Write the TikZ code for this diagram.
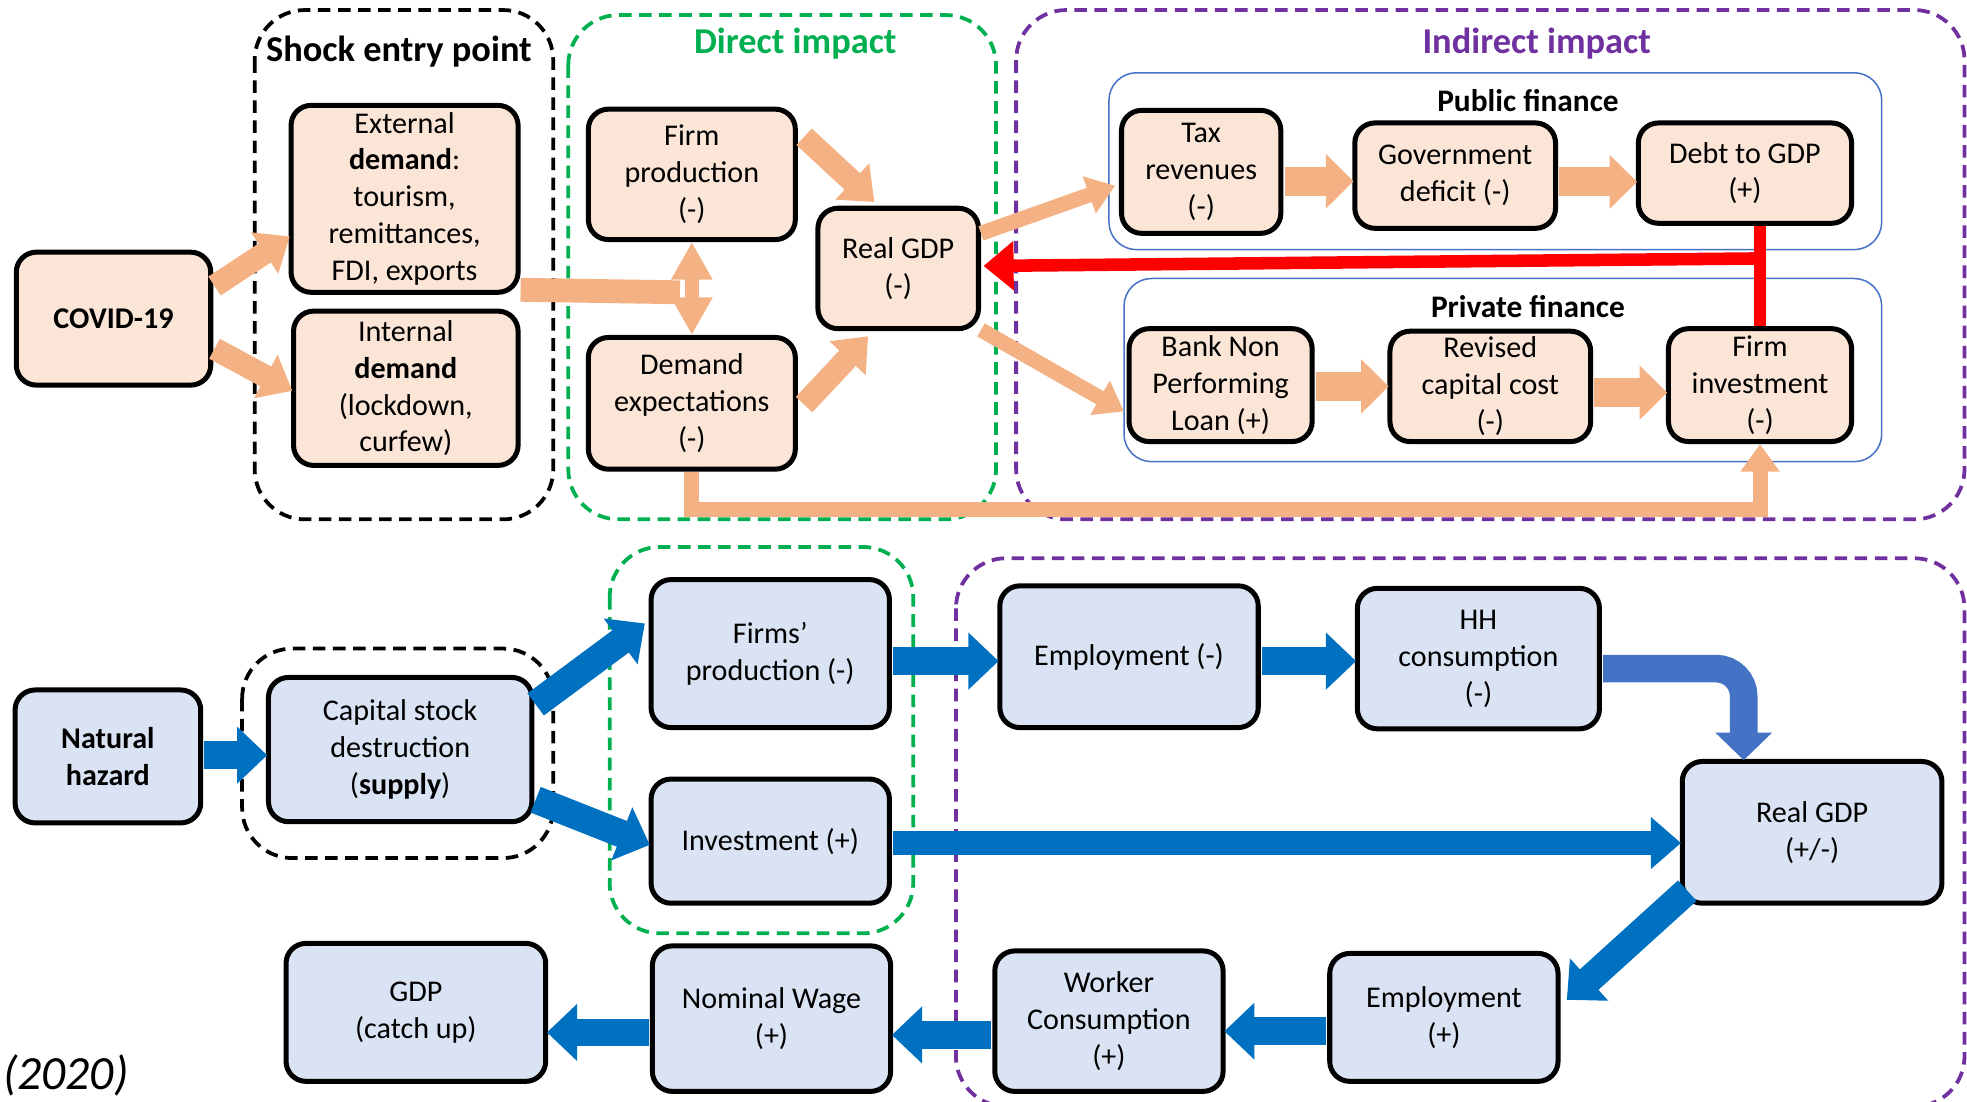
\documentclass[tikz,border=0pt]{standalone}
\usepackage{fontspec}
\setmainfont{Carlito}
\usetikzlibrary{arrows.meta,calc}

\definecolor{peach}{HTML}{FBE5D6}
\definecolor{orangearr}{HTML}{F4B183}
\definecolor{paleblue}{HTML}{DAE3F3}
\definecolor{bluearr}{HTML}{0070C0}
\definecolor{bluecurve}{HTML}{4472C4}
\definecolor{finblue}{HTML}{4472C4}
\definecolor{grpgreen}{HTML}{00B050}
\definecolor{grppurple}{HTML}{7030A0}

\begin{document}
\begin{tikzpicture}[x=0.5pt,y=-0.5pt,
  box/.style={draw=black, line width=2pt, rounded corners=8pt, inner sep=1pt,
    align=center, font=\fontsize{12}{14.7}\selectfont},
  pbox/.style={box, fill=peach},
  bbox/.style={box, fill=paleblue},
  sz/.style 2 args={minimum width=#1*0.5pt, minimum height=#2*0.5pt},
  group/.style={line width=1.5pt, rounded corners=20pt, dash pattern=on 5pt off 3pt},
  fin/.style={draw=finblue, line width=0.6pt, rounded corners=11pt},
  ttl/.style={font=\fontsize{14.5}{17}\selectfont\bfseries},
  subttl/.style={font=\fontsize{12.5}{15}\selectfont\bfseries},
  ofat/.style={draw=orangearr, line width=11.5pt, -{Triangle[length=11pt,width=21pt]}},
  odiag/.style={draw=orangearr, line width=9pt, -{Triangle[length=12pt,width=19pt]}},
  othin/.style={draw=orangearr, line width=6pt, -{Triangle[length=11pt,width=15pt]}},
  obar/.style={draw=orangearr, line width=9.5pt},
  oboth/.style={draw=orangearr, line width=5.5pt,
    {Triangle[length=15pt,width=15.5pt]}-{Triangle[length=15pt,width=15.5pt]}},
  barr/.style={draw=bluearr, line width=11pt, -{Triangle[length=12pt,width=22pt]}},
  bcurve/.style={draw=bluecurve, line width=11pt, rounded corners=11pt,
    -{Triangle[length=11pt,width=22pt]}},
  redarr/.style={draw=red, line width=5pt, -{Triangle[length=12pt,width=19pt]}},
  redline/.style={draw=red, line width=4.5pt}
]
\useasboundingbox (0,0) rectangle (1568,878);
\clip (0,0) rectangle (1568,878);

% ---------------- COVID-19 channel ----------------
% grouping frames
\draw[group, draw=black] (203,8) rectangle (441,414);
\draw[group, draw=grpgreen] (453,12) rectangle (794,414);
\draw[group, draw=grppurple] (810,8) rectangle (1566,414);
\draw[fin] (884,58) rectangle (1500,199);
\draw[fin] (896,222) rectangle (1500,368);

\node[ttl] (tshock) at (318,41) {Shock entry point};
\node[ttl, text=grpgreen] (tdirect) at (634,35) {Direct impact};
\node[ttl, text=grppurple] (tindirect) at (1225,35) {Indirect impact};
\node[subttl] (tpublic) at (1218,80) {Public finance};
\node[subttl] (tprivate) at (1218,244) {Private finance};

\node[pbox, sz={155}{106}] (covid) at (90.5,254) {\textbf{COVID-19}};
\node[pbox, sz={181}{149}] (ext) at (322.5,158.5)
  {External\\\textbf{demand}:\\tourism,\\remittances,\\FDI, exports};
\node[pbox, sz={179}{123}] (int) at (323.5,309.5)
  {Internal\\\textbf{demand}\\(lockdown,\\curfew)};
\node[pbox, sz={165}{104}] (fprod) at (551.5,139) {Firm\\production\\(-)};
\node[pbox, sz={165}{105}] (dexp) at (551.5,321.5) {Demand\\expectations\\(-)};
\node[pbox, sz={128}{96}] (rgdp) at (716,214) {Real GDP\\(-)};
\node[pbox, sz={127}{98}] (tax) at (957.5,137) {Tax\\revenues\\(-)};
\node[pbox, sz={160}{84}] (gov) at (1160,140) {Government\\deficit (-)};
\node[pbox, sz={170}{80}] (debt) at (1391,138) {Debt to GDP\\(+)};
\node[pbox, sz={146}{90}] (npl) at (973,307) {Bank Non\\Performing\\Loan (+)};
\node[pbox, sz={160}{88}] (rev) at (1188,308) {Revised\\capital cost\\(-)};
\node[pbox, sz={146}{90}] (finv) at (1403,307) {Firm\\investment\\(-)};

% connectors
\draw[odiag] ($(covid.east)+(1,-26)$) -- ($(ext.west)+(1,30)$);
\draw[odiag] ($(covid.east)+(1,24)$) -- ($(int.west)+(1,2)$);
\coordinate (barend) at ($(fprod.south)+(-9.5,40)$);
\draw[obar] ($(ext.east)+(0,72.5)$) -- (barend);
\draw[oboth] (fprod.south) -- (dexp.north);
\draw[odiag] ($(fprod.east)+(5,-30)$) -- ($(rgdp.north west)+(47,-3)$);
\draw[odiag] ($(dexp.east)+(5,1)$) -- ($(rgdp.south west)+(42,4)$);
\draw[othin] ($(rgdp.east)+(0,-28)$) -- ($(tax.west)+(-3,11)$);
\draw[othin] ($(rgdp.south east)+(0,-1)$) -- ($(npl.west)+(-2,21)$);
\draw[ofat] ($(tax.east)+(1,7.5)$) -- ($(gov.west)+(1,4.5)$);
\draw[ofat] ($(gov.east)+(1,5)$) -- ($(debt.west)+(1,7)$);
\draw[ofat] ($(npl.east)+(1,1)$) -- ($(rev.west)+(1,0)$);
\draw[ofat] ($(rev.east)+(1,5)$) -- ($(finv.west)+(1,6)$);
\draw[redline] (finv.north |- debt.south) -- (finv.north);
\coordinate (redj) at ($(finv.north)+(0,-54)$);
\draw[redarr] (redj) -- ($(rgdp.east)+(2,-2)$);
\draw[othin, line join=miter] (dexp.south) -- ++(0,30) -| (finv.south);

% ---------------- Natural hazard channel ----------------
\draw[group, draw=black] (193,517) rectangle (441,684);
\draw[group, draw=grpgreen] (486,436) rectangle (728,744);
\draw[group, draw=grppurple] (762,445) rectangle (1566,882);

\node[bbox, sz={148}{106}] (hazard) at (86,603) {\textbf{Natural}\\\textbf{hazard}};
\node[bbox, sz={210}{115}] (capital) at (319,597.5)
  {Capital stock\\destruction\\(\textbf{supply})};
\node[bbox, sz={190}{118}] (firms) at (614,521) {Firms’\\production (-)};
\node[bbox, sz={190}{99}] (invest) at (614,670.5) {Investment (+)};
\node[bbox, sz={206}{113}] (empm) at (900,523.5) {Employment (-)};
\node[bbox, sz={193}{112}] (hh) at (1178.5,525) {HH\\consumption\\(-)};
\node[bbox, sz={207}{113}] (rgdpb) at (1444.5,663.5) {Real GDP\\(+/-)};
\node[bbox, sz={182}{102}] (empp) at (1151,811) {Employment\\(+)};
\node[bbox, sz={182}{112}] (worker) at (884,814) {Worker\\Consumption\\(+)};
\node[bbox, sz={190}{116}] (wage) at (615,812) {Nominal Wage\\(+)};
\node[bbox, sz={207}{110}] (gdpc) at (331.5,807) {GDP\\(catch up)};

\node[font=\fontsize{19}{21}\selectfont\itshape, anchor=west, inner sep=0pt]
  (year) at (2,857) {(2020)};

% connectors
\draw[barr] ($(hazard.east)+(1,-1)$) -- ($(capital.west)+(1,4.5)$);
\draw[barr] ($(capital.east)+(1,-36)$) -- ($(firms.west)+(-3,-24)$);
\draw[barr] ($(capital.east)+(1,40)$) -- ($(invest.west)+(1,3)$);
\draw[barr] ($(firms.east)+(1,6)$) -- ($(empm.west)+(1,3.5)$);
\draw[barr] ($(empm.east)+(1,3.5)$) -- ($(hh.west)+(1,2)$);
\draw[bcurve] ($(hh.east)+(1,8)$) -| ($(rgdpb.north west)+(51,1)$);
\draw[barr, line width=9.5pt, -{Triangle[length=12pt,width=20pt]}]
  ($(invest.east)+(1,1.5)$) -- ($(rgdpb.west)+(1,8.5)$);
\draw[barr] ($(rgdpb.south west)+(6,-12)$) -- ($(empp.east)+(5,-14)$);
\draw[barr] ($(empp.west)+(-1,11)$) -- ($(worker.east)+(-1,8)$);
\draw[barr] ($(worker.west)+(-1,11)$) -- ($(wage.east)+(-1,13)$);
\draw[barr] ($(wage.west)+(-1,11)$) -- ($(gdpc.east)+(-1,16)$);
\end{tikzpicture}
\end{document}
